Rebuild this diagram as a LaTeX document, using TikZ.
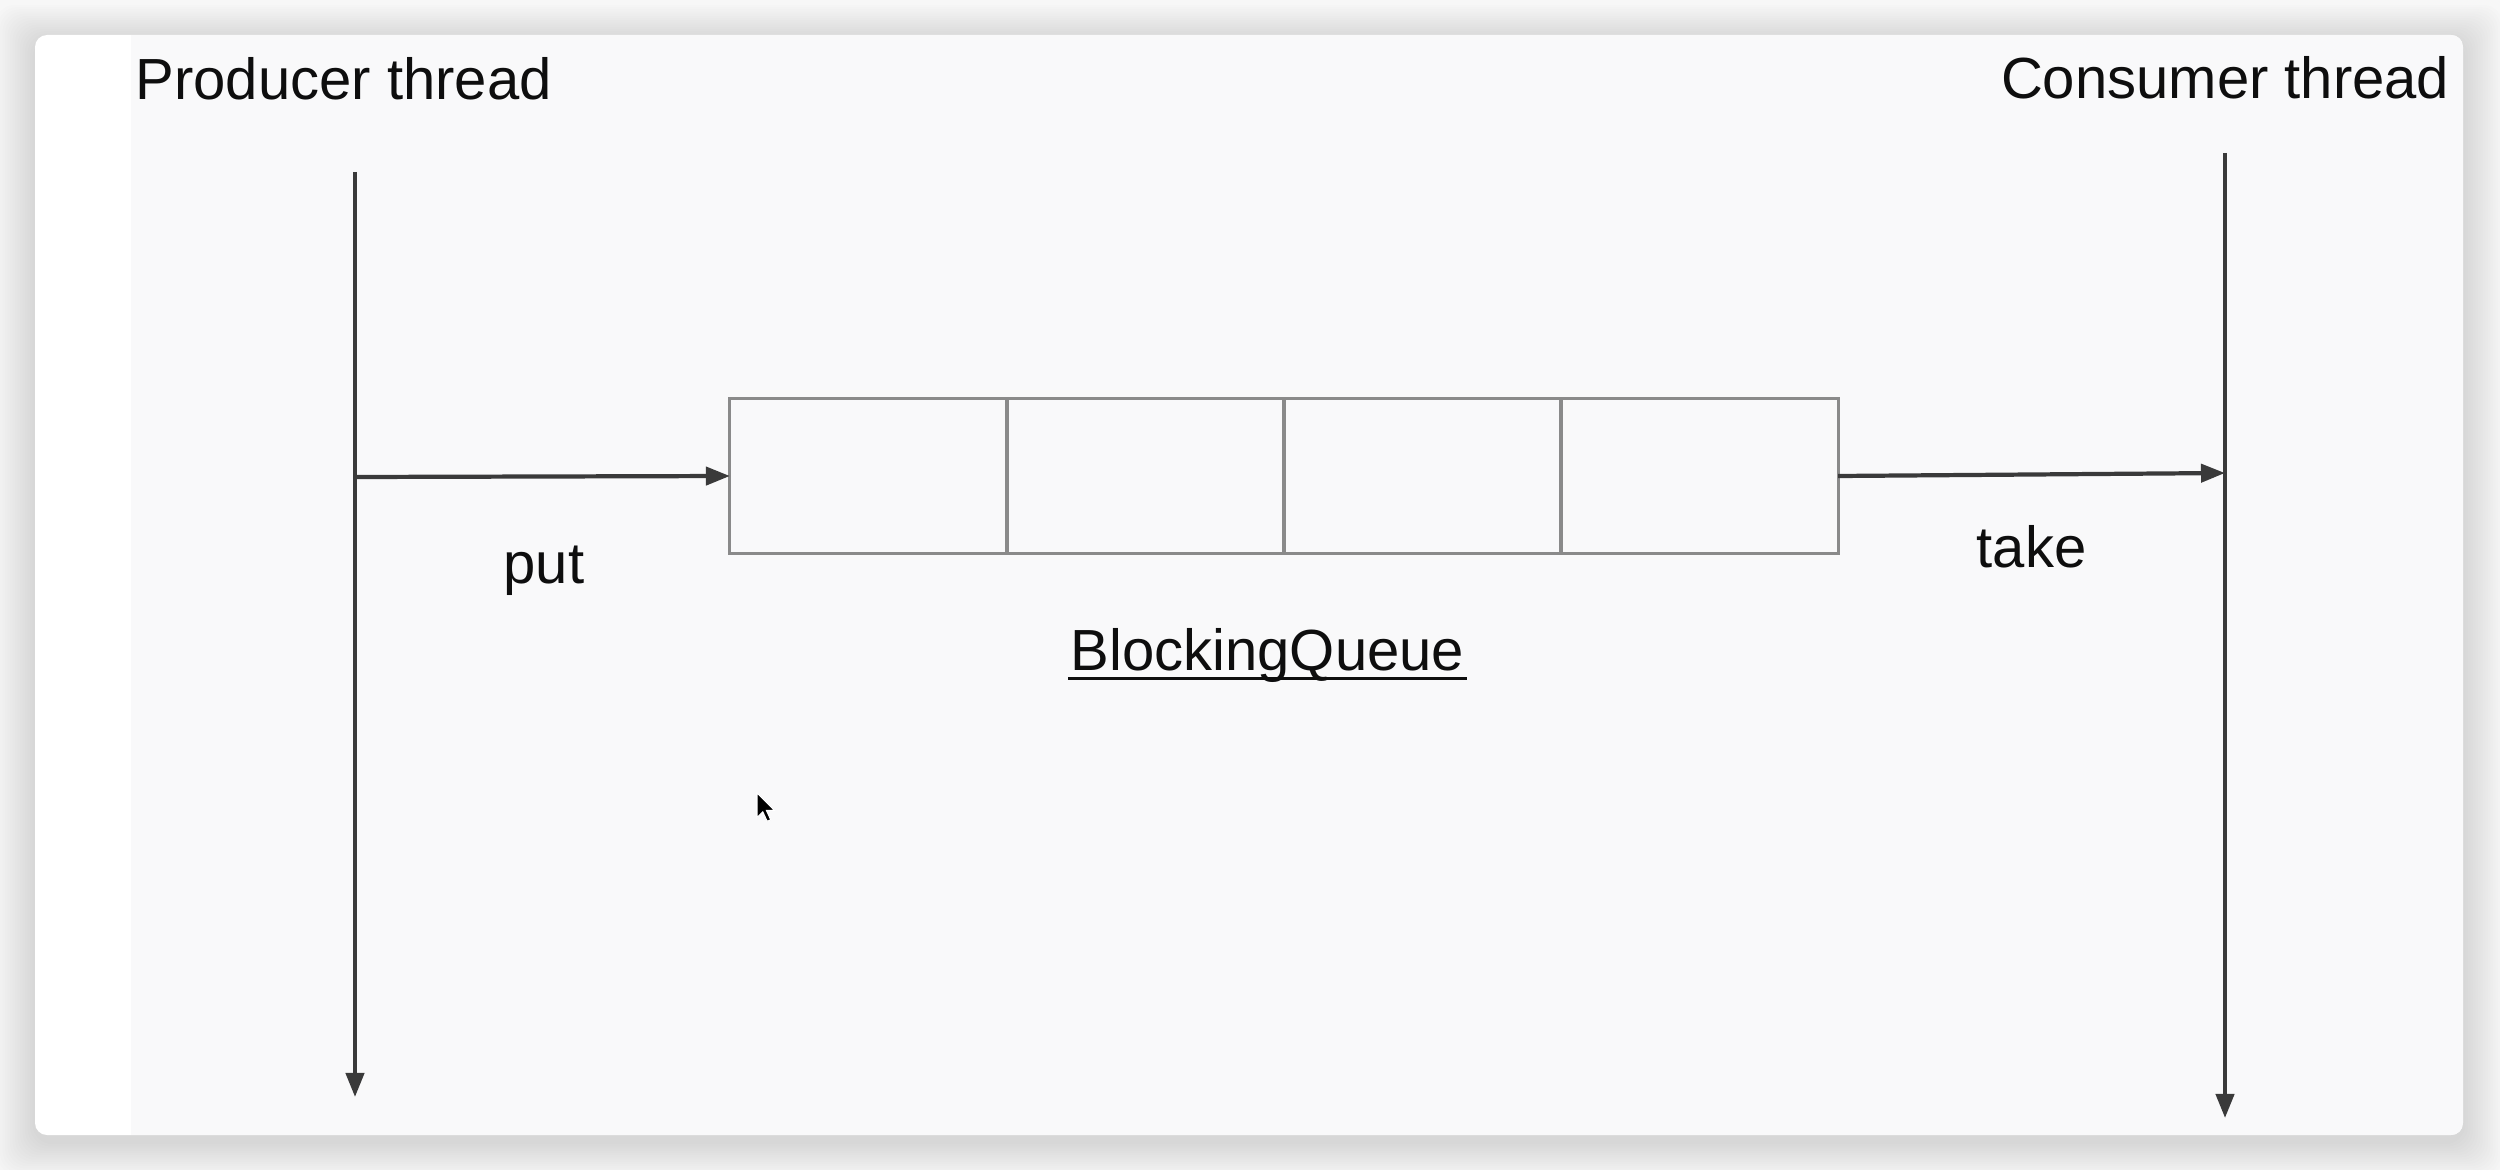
\documentclass[tikz,border=0pt]{standalone}
\usepackage{fontspec}
\setmainfont{Liberation Sans}
\usetikzlibrary{arrows.meta}
\definecolor{outerbg}{HTML}{F7F7F7}
\definecolor{innerbg}{HTML}{F9F9FA}
\definecolor{linecol}{HTML}{3A3A3A}
\definecolor{boxcol}{HTML}{8A8A8A}
\definecolor{txtcol}{HTML}{0E0E0E}
\begin{document}
\begin{tikzpicture}[x=0.01cm,y=-0.01cm,
  lbl/.style={font=\fontsize{16.5}{20}\selectfont, text=txtcol, inner sep=0pt},
  cell/.style={draw=boxcol, line width=0.85pt, minimum width=2.77cm, minimum height=1.54cm, inner sep=0pt, outer sep=0pt},
  thread/.style={draw=linecol, line width=1.2pt, -{Triangle[length=0.24cm,width=0.18cm]}},
  ]
\useasboundingbox (0,0) rectangle (2500,1170);
\fill[outerbg] (0,0) rectangle (2500,1170);
% window shadow
\foreach \i in {1,...,16} {
  \fill[black, opacity=0.008, rounded corners=0.2cm] (35-\i*2.5, 40-\i*2.2) rectangle (2463+\i*2.5, 1142+\i*2.2);
}
% window
\path[fill=white, rounded corners=0.12cm] (35,35) rectangle (2463,1135);
\begin{scope}
  \clip[rounded corners=0.12cm] (35,35) rectangle (2463,1135);
  \fill[innerbg] (131,35) rectangle (2463,1135);
\end{scope}

% titles
\node[lbl, anchor=base west] (prod) at (135,100) {Producer thread};
\node[lbl, anchor=base east] (cons) at (2450,99) {Consumer thread};

% thread lines
\coordinate (pTop) at (355,172);
\coordinate (pBot) at (355,1097);
\coordinate (pPut) at (355,477);
\coordinate (cTop) at (2225,153);
\coordinate (cBot) at (2225,1118);
\coordinate (cTake) at (2225,473);

% queue cells
\node[cell] (q1) at (868.5,476) {};
\node[cell] (q2) at (1145.5,476) {};
\node[cell] (q3) at (1422.5,476) {};
\node[cell] (q4) at (1699.5,476) {};

\draw[thread] (pTop) -- (pBot);
\draw[thread] (cTop) -- (cBot);
\draw[thread] (pPut) -- (q1.west);
\draw[thread] (q4.east) -- (cTake);

% labels
\node[lbl, anchor=base west] (put) at (503,583) {put};
\node[lbl, anchor=base west] (take) at (1976,567) {take};
\node[lbl, anchor=base west] (bq) at (1070,670) {BlockingQueue};
\draw[txtcol, line width=0.85pt] ([shift={(-2,8)}]bq.base west) -- ([shift={(2,8)}]bq.base east);

% mouse cursor
\fill[black, draw=white, line width=0.3pt, shift={(757,793)}, scale=1.45]
  (0,0) -- (0,17) -- (4,13) -- (7,19.5) -- (9.5,18.5) -- (6.5,12) -- (12,12) -- cycle;
\end{tikzpicture}
\end{document}
